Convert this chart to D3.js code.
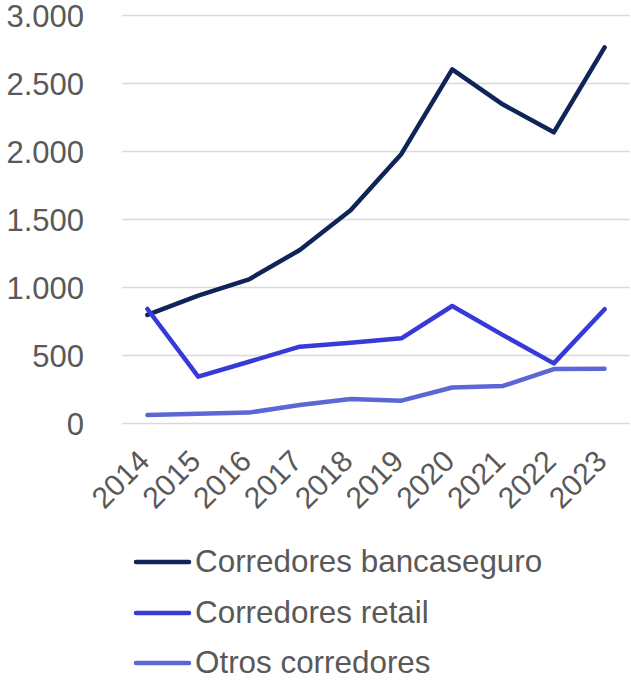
<!DOCTYPE html>
<html>
<head>
<meta charset="utf-8">
<script src="https://cdn.jsdelivr.net/npm/d3@7"></script>
<style>
  html, body { margin: 0; padding: 0; background: #fff; }
  svg { display: block; font-family: "Liberation Sans", Arial, sans-serif; }
</style>
</head>
<body>
<svg id="chart" width="631" height="680"></svg>
<script>
// Years on the horizontal axis
const years = ["2014", "2015", "2016", "2017", "2018", "2019", "2020", "2021", "2022", "2023"];

// Series values
const bancaseguro = [798, 940, 1060, 1276, 1568, 1982, 2604, 2345, 2141, 2765];
const retail = [842, 344, 454, 565, 594, 626, 864, 650, 442, 840];
const otros = [63, 72, 80, 136, 180, 168, 265, 276, 400, 403];

// Y-axis ticks
const yTicks = [0, 500, 1000, 1500, 2000, 2500, 3000];

const seriesNames = ["Corredores bancaseguro", "Corredores retail", "Otros corredores"];
const seriesColors = ["#0f2457", "#373ad9", "#5b67d5"];
const seriesValues = [bancaseguro, retail, otros];

const svg = d3.select("#chart");
const textColor = "#595959";

const plot = { left: 122, right: 630, top: 15.5, bottom: 423.5 };

const x = d3.scalePoint()
  .domain(years)
  .range([plot.left, plot.right])
  .padding(0.5);

const y = d3.scaleLinear()
  .domain([0, 3000])
  .range([plot.bottom, plot.top]);

const fmt = d3.formatLocale({ decimal: ",", thousands: ".", grouping: [3], currency: ["", "€"] }).format(",d");

// Gridlines
svg.append("g")
  .selectAll("line")
  .data(yTicks)
  .join("line")
  .attr("x1", plot.left)
  .attr("x2", plot.right)
  .attr("y1", d => y(d))
  .attr("y2", d => y(d))
  .attr("stroke", "#d9d9d9")
  .attr("stroke-width", 1.5);

// Y-axis labels
svg.append("g")
  .selectAll("text")
  .data(yTicks)
  .join("text")
  .attr("x", 84)
  .attr("y", d => y(d))
  .attr("dy", "0.36em")
  .attr("text-anchor", "end")
  .attr("fill", textColor)
  .attr("font-size", 31)
  .text(d => fmt(d));

// X-axis labels, rotated
svg.append("g")
  .selectAll("text")
  .data(years)
  .join("text")
  .attr("transform", d => `translate(${x(d) + 4},${463}) rotate(-45)`)
  .attr("text-anchor", "end")
  .attr("fill", textColor)
  .attr("font-size", 30)
  .text(d => d);

// Lines
const line = d3.line()
  .x((d, i) => x(years[i]))
  .y(d => y(d));

svg.append("g")
  .selectAll("path")
  .data(seriesValues)
  .join("path")
  .attr("d", d => line(d))
  .attr("fill", "none")
  .attr("stroke", (d, i) => seriesColors[i])
  .attr("stroke-width", 4.5)
  .attr("stroke-linecap", "round")
  .attr("stroke-linejoin", "round");

// Legend
const legendY = [562, 613, 663];
const legend = svg.append("g")
  .selectAll("g")
  .data(seriesNames)
  .join("g")
  .attr("transform", (d, i) => `translate(0,${legendY[i]})`);

legend.append("line")
  .attr("x1", 136)
  .attr("x2", 189)
  .attr("stroke", (d, i) => seriesColors[i])
  .attr("stroke-width", 4.5)
  .attr("stroke-linecap", "round");

legend.append("text")
  .attr("x", 195)
  .attr("dy", "0.33em")
  .attr("fill", textColor)
  .attr("font-size", 31.4)
  .text(d => d);
</script>
</body>
</html>
